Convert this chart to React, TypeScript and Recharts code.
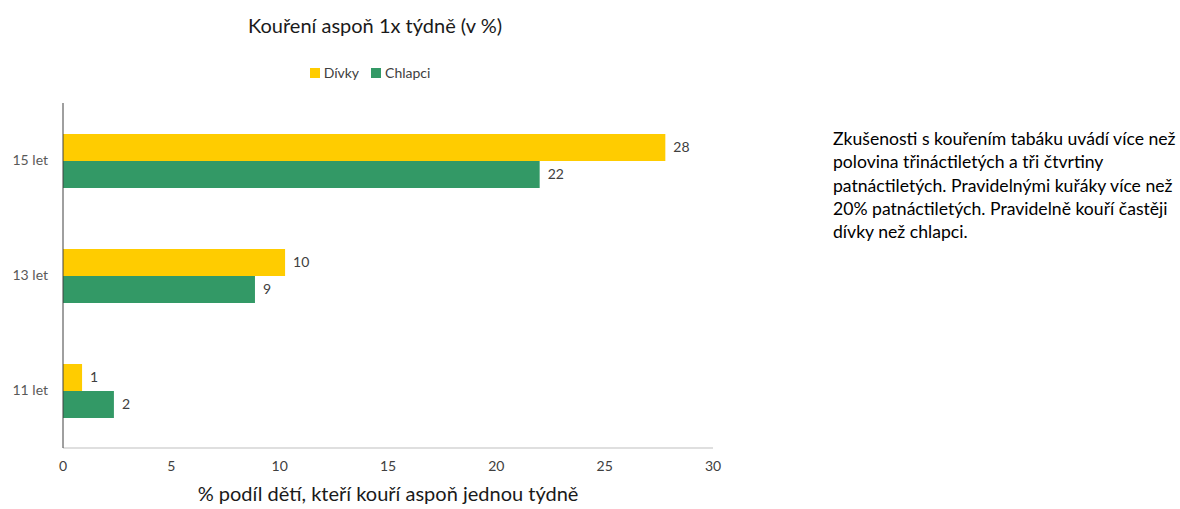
import { BarChart, Bar, XAxis, YAxis, Legend, LabelList } from 'recharts';

const categories = ['15 let', '13 let', '11 let'];
const divky = [27.8, 10.25, 0.88];
const chlapci = [22.0, 8.86, 2.35];
const xTicks = [0, 5, 10, 15, 20, 25, 30];

const SERIES = [
  { key: 'divky', name: 'Dívky', color: '#FFCC00' },
  { key: 'chlapci', name: 'Chlapci', color: '#339966' },
];

const noteLines = [
  'Zkušenosti s kouřením tabáku uvádí více než',
  'polovina třináctiletých a tři čtvrtiny',
  'patnáctiletých. Pravidelnými kuřáky více než',
  '20% patnáctiletých. Pravidelně kouří častěji',
  'dívky než chlapci.',
];

const FONT = 'Lato, "Open Sans", sans-serif';

const data = categories.map((name, i) => ({ name, divky: divky[i], chlapci: chlapci[i] }));

const LegendContent = () => (
  <div style={{ display: 'flex', justifyContent: 'center', gap: 12, fontFamily: FONT, fontSize: 14, color: '#404040' }}>
    {SERIES.map((s) => (
      <span key={s.key} style={{ display: 'flex', alignItems: 'center' }}>
        <span style={{ width: 10, height: 10, background: s.color, display: 'inline-block', marginRight: 4 }} />
        {s.name}
      </span>
    ))}
  </div>
);

export default function App() {
  return (
    <div style={{ position: 'absolute', left: 0, top: 0, width: 1180, height: 509, background: '#fff', fontFamily: FONT }}>
      <div style={{ position: 'absolute', left: 0, width: 750, top: 13, textAlign: 'center', fontSize: 20, color: '#1a1a1a' }}>
        Kouření aspoň 1x týdně (v %)
      </div>
      <div style={{ position: 'absolute', left: 0, top: 0 }}>
        <BarChart
          width={730}
          height={509}
          data={data}
          layout="vertical"
          margin={{ top: 86, right: 17, bottom: 0, left: 0 }}
          barGap={0}
          barSize={27}
        >
          <XAxis
            type="number"
            domain={[0, 30]}
            ticks={xTicks}
            interval={0}
            height={61}
            tickSize={0}
            tickMargin={13}
            stroke="#bfbfbf"
            tick={{ fill: '#404040', fontSize: 14, fontFamily: FONT }}
            label={{ value: '% podíl dětí, kteří kouří aspoň jednou týdně', position: 'insideBottom', offset: 8, fill: '#1a1a1a', fontSize: 20, fontFamily: FONT }}
          />
          <YAxis
            type="category"
            dataKey="name"
            width={63}
            tickSize={0}
            tickMargin={15}
            stroke="#404040"
            tick={{ fill: '#595959', fontSize: 14, fontFamily: FONT }}
          />
          <Legend
            verticalAlign="top"
            content={<LegendContent />}
            wrapperStyle={{ top: 64, left: 0, width: 740 }}
          />
          {SERIES.map((s) => (
            <Bar key={s.key} dataKey={s.key} name={s.name} fill={s.color} isAnimationActive={false}>
              <LabelList
                dataKey={s.key}
                position="right"
                offset={8}
                formatter={(v: number) => Math.round(v)}
                style={{ fill: '#404040', fontSize: 14, fontFamily: FONT }}
              />
            </Bar>
          ))}
        </BarChart>
      </div>
      <div style={{ position: 'absolute', left: 833, top: 127, fontSize: 17.6, lineHeight: '23.3px', color: '#000' }}>
        {noteLines.map((l, i) => (
          <div key={i}>{l}</div>
        ))}
      </div>
    </div>
  );
}
